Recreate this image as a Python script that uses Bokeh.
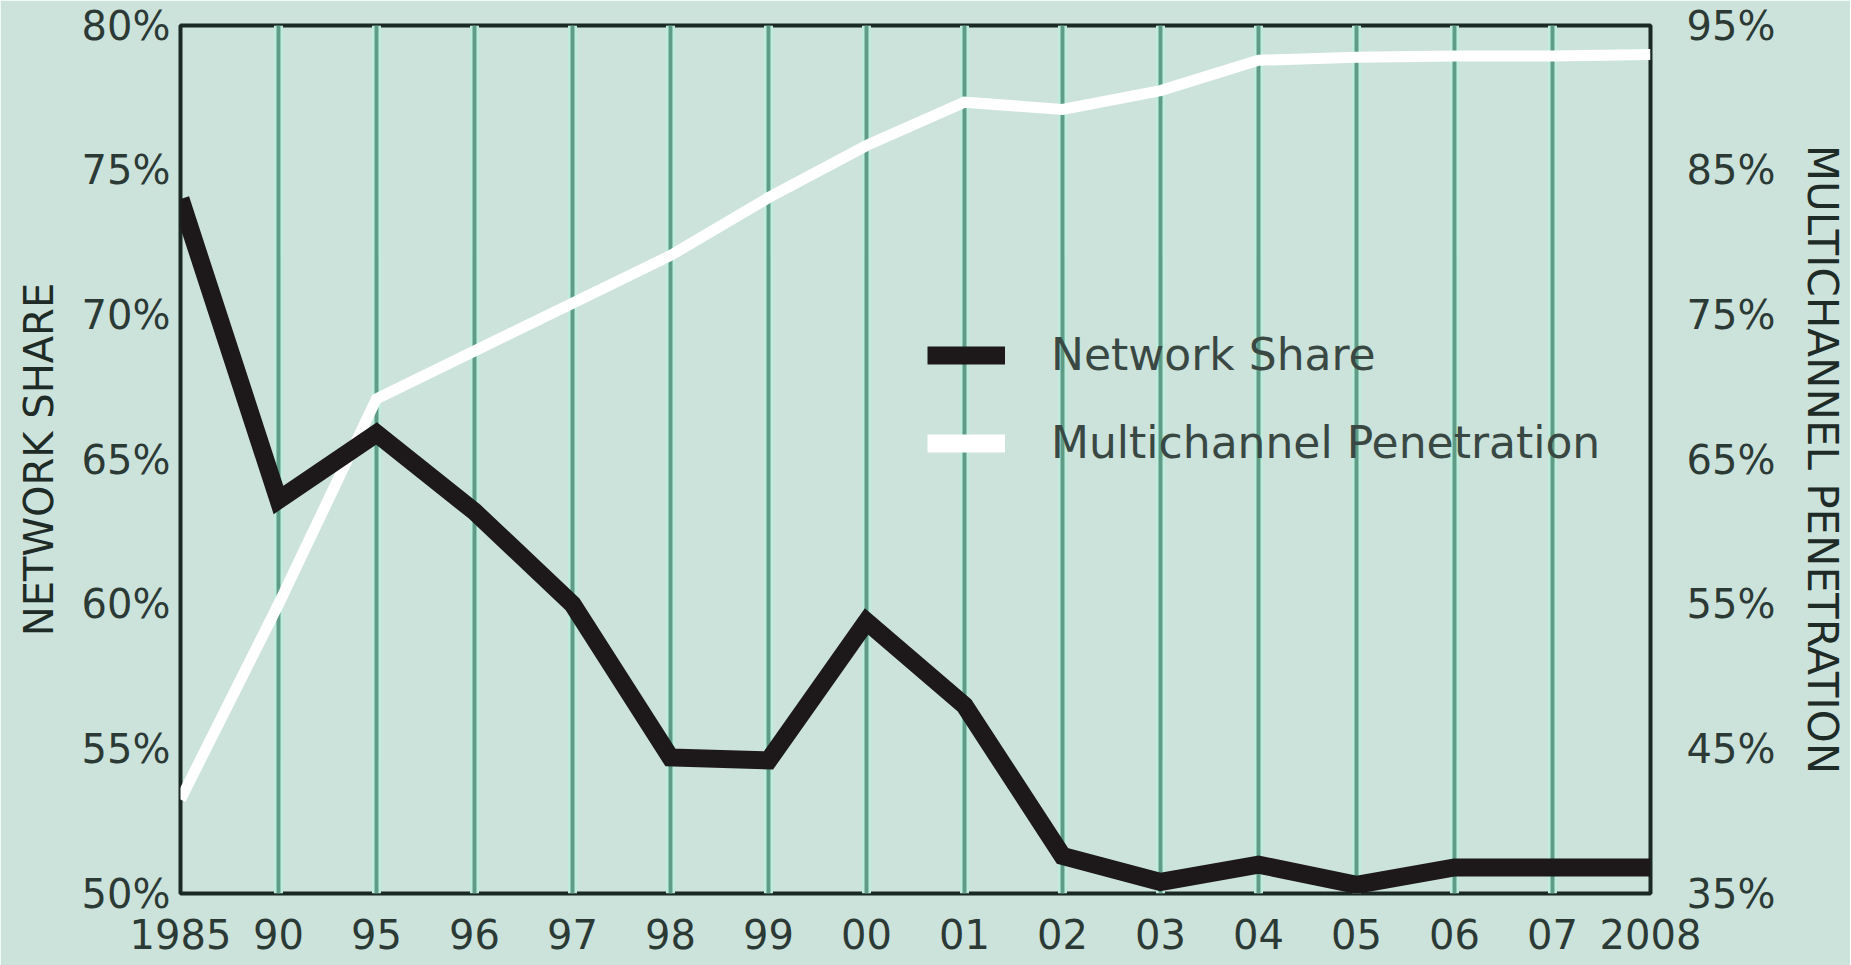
from bokeh.plotting import figure
from bokeh.models import (Range1d, LinearAxis, FixedTicker, PrintfTickFormatter,
                          Legend, LegendItem, Grid, ColumnDataSource)
from bokeh.embed import file_html
from bokeh.resources import INLINE

# ---- data ----
years = ["1985", "90", "95", "96", "97", "98", "99", "00", "01",
         "02", "03", "04", "05", "06", "07", "2008"]
network_share = [74.0, 63.6, 65.9, 63.2, 60.0, 54.7, 54.6, 59.4, 56.5,
                 51.3, 50.4, 51.0, 50.3, 50.9, 50.9, 50.9]
multichannel_penetration = [41.5, 55.0, 69.2, 72.5, 75.8, 79.1, 83.1, 86.7, 89.7,
                            89.2, 90.5, 92.6, 92.8, 92.9, 92.9, 93.0]
left_ticks = [50, 55, 60, 65, 70, 75, 80]
right_ticks = [35, 45, 55, 65, 75, 85, 95]
series_names = ["Network Share", "Multichannel Penetration"]

xs = list(range(len(years)))

BG = "#cce3db"
TICK_COLOR = "#2c3a36"
LABEL_COLOR = "#1e2b27"
FONT = "DejaVu Sans"
BLACK = "#1d191a"

p = figure(width=1850, height=965, output_backend="svg", toolbar_location=None,
           x_range=Range1d(0, len(years) - 1), y_range=Range1d(50, 80),
           min_border_left=180, min_border_right=197, min_border_top=25,
           min_border_bottom=72, background_fill_color=BG, border_fill_color=BG)
p.extra_y_ranges = {"mc": Range1d(35, 95)}

# x axis
xa = p.xaxis[0]
xa.ticker = FixedTicker(ticks=xs)
xa.major_label_overrides = {i: lab for i, lab in enumerate(years)}
xa.axis_line_color = None
xa.major_tick_line_color = None
xa.minor_tick_line_color = None
xa.major_tick_out = 0
xa.major_tick_in = 0
xa.major_label_standoff = 25
xa.major_label_text_font = FONT
xa.major_label_text_font_size = "40px"
xa.major_label_text_color = TICK_COLOR

# left axis
ya = p.yaxis[0]
ya.ticker = FixedTicker(ticks=left_ticks)
ya.formatter = PrintfTickFormatter(format="%d%%")
ya.axis_label = "NETWORK SHARE"
ya.axis_line_color = None
ya.major_tick_line_color = None
ya.minor_tick_line_color = None
ya.major_tick_out = 0
ya.major_tick_in = 0
ya.major_label_standoff = 10
ya.axis_label_standoff = 17
ya.major_label_text_font = FONT
ya.major_label_text_font_size = "40px"
ya.major_label_text_color = TICK_COLOR
ya.axis_label_text_font = FONT
ya.axis_label_text_font_size = "40px"
ya.axis_label_text_font_style = "normal"
ya.axis_label_text_color = LABEL_COLOR

# right axis
ra = LinearAxis(y_range_name="mc", ticker=FixedTicker(ticks=right_ticks),
                formatter=PrintfTickFormatter(format="%d%%"),
                axis_label="MULTICHANNEL PENETRATION")
ra.axis_line_color = None
ra.major_tick_line_color = None
ra.minor_tick_line_color = None
ra.major_tick_out = 0
ra.major_tick_in = 0
ra.major_label_standoff = 36
ra.axis_label_standoff = 20
ra.major_label_text_font = FONT
ra.major_label_text_font_size = "40px"
ra.major_label_text_color = TICK_COLOR
ra.axis_label_text_font = FONT
ra.axis_label_text_font_size = "42px"
ra.axis_label_text_font_style = "normal"
ra.axis_label_text_color = LABEL_COLOR
p.add_layout(ra, "right")

# grid: light band + dark line
p.ygrid.visible = False
p.xgrid.ticker = FixedTicker(ticks=xs)
p.xgrid.grid_line_color = "#bfeddd"
p.xgrid.grid_line_width = 9
p.add_layout(Grid(dimension=0, ticker=FixedTicker(ticks=xs),
                  grid_line_color="#5e9c86", grid_line_width=4))

p.outline_line_color = "#1b2925"
p.outline_line_width = 4
p.outline_line_alpha = 1.0

# series
p.line(xs, multichannel_penetration, y_range_name="mc", line_color="white",
       line_width=11, line_join="miter")
p.line(xs, network_share, line_color=BLACK, line_width=18, line_join="miter")

# legend swatches (drawn only in the key)
nan = float("nan")
sw_ns = p.line("x", "y", source=ColumnDataSource(data=dict(x=[xs[0]], y=[nan])),
               line_color=BLACK, line_width=18)
sw_mc = p.line("x", "y", source=ColumnDataSource(data=dict(x=[xs[0]], y=[nan])),
               line_color="white", line_width=18)
legend = Legend(items=[LegendItem(label=series_names[0], renderers=[sw_ns]),
                       LegendItem(label=series_names[1], renderers=[sw_mc])],
                location=(747, 425), padding=0, margin=0, spacing=37,
                glyph_width=78, glyph_height=50, label_standoff=46,
                label_text_font=FONT, label_text_font_size="44px",
                label_text_color="#3a4843", border_line_color=None,
                background_fill_alpha=0)
p.add_layout(legend)

open("out.html", "w").write(file_html(p, INLINE))
